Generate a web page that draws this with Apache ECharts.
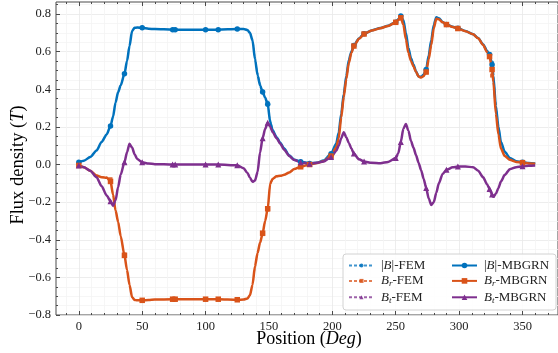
<!DOCTYPE html>
<html>
<head>
<meta charset="utf-8">
<script src="https://cdn.jsdelivr.net/npm/echarts@6/dist/echarts.min.js"></script>
<style>
  html, body { margin: 0; padding: 0; background: #fff; }
  #chart { width: 558px; height: 353px; }
</style>
</head>
<body>
<div id="chart"></div>
<script>
// Rotor position in mechanical degrees
const positions = [
  0, 4, 9, 14, 18, 22, 25, 27, 29, 31,
  33, 36, 38, 40, 42, 44, 46, 50, 55, 60,
  74, 76, 100, 110, 125, 130, 133, 135, 137, 139,
  141, 143, 145, 147, 149, 151, 153, 156, 159, 162,
  166, 170, 175, 182, 188, 193, 199, 203, 205, 207,
  209, 211, 213, 215, 217, 221, 225, 231, 238, 244,
  250, 252, 254, 256, 258, 260, 262, 264, 266, 268,
  270, 272, 274, 276, 278, 280, 282, 284, 287, 290,
  295, 299, 305, 311, 315, 319, 322, 324, 326, 327,
  329, 331, 333, 336, 340, 345, 350, 355, 360
];

// Positions that carry a marker
const markedPositions = [0, 25, 36, 50, 74, 76, 100, 110, 125, 145, 149, 175, 182, 199, 217, 225, 250, 254, 274, 290, 299, 324, 326, 350];

// |B| (T)
const bAbsFem = [
  0.012, 0.022, 0.042, 0.076, 0.12, 0.162, 0.203, 0.25, 0.325, 0.38,
  0.425, 0.482, 0.548, 0.625, 0.705, 0.728, 0.73, 0.728, 0.722, 0.72,
  0.717, 0.717, 0.717, 0.717, 0.72, 0.72, 0.716, 0.705, 0.67, 0.58,
  0.49, 0.435, 0.39, 0.36, 0.33, 0.24, 0.19, 0.15, 0.12, 0.088,
  0.05, 0.028, 0.016, 0.006, 0.01, 0.02, 0.055, 0.105, 0.165, 0.26,
  0.37, 0.465, 0.55, 0.598, 0.633, 0.67, 0.695, 0.713, 0.726, 0.738,
  0.757, 0.772, 0.788, 0.765, 0.705, 0.625, 0.57, 0.535, 0.5, 0.47,
  0.466, 0.476, 0.5, 0.57, 0.65, 0.735, 0.78, 0.776, 0.758, 0.745,
  0.732, 0.724, 0.71, 0.693, 0.672, 0.64, 0.61, 0.588, 0.543, 0.49,
  0.33, 0.21, 0.125, 0.07, 0.036, 0.018, 0.012, 0.008, 0.005
];
const bAbsMbgrn = [
  0.012, 0.02, 0.04, 0.075, 0.12, 0.16, 0.205, 0.255, 0.33, 0.385,
  0.42, 0.482, 0.55, 0.63, 0.71, 0.727, 0.728, 0.727, 0.722, 0.72,
  0.717, 0.717, 0.717, 0.717, 0.72, 0.72, 0.715, 0.7, 0.66, 0.56,
  0.475, 0.42, 0.385, 0.355, 0.32, 0.225, 0.18, 0.145, 0.115, 0.085,
  0.048, 0.026, 0.015, 0.006, 0.01, 0.021, 0.057, 0.11, 0.17, 0.27,
  0.375, 0.47, 0.555, 0.6, 0.633, 0.67, 0.695, 0.713, 0.726, 0.738,
  0.757, 0.772, 0.79, 0.768, 0.7, 0.62, 0.565, 0.53, 0.495, 0.468,
  0.466, 0.478, 0.505, 0.58, 0.66, 0.742, 0.783, 0.777, 0.758, 0.745,
  0.732, 0.724, 0.71, 0.693, 0.672, 0.638, 0.605, 0.585, 0.53, 0.47,
  0.31, 0.2, 0.12, 0.068, 0.035, 0.018, 0.012, 0.008, 0.005
];

// Radial component B_r (T)
const bRadFem = [
  -0.005, -0.015, -0.034, -0.056, -0.065, -0.066, -0.078, -0.15, -0.24, -0.3,
  -0.375, -0.478, -0.555, -0.635, -0.7, -0.72, -0.722, -0.722, -0.72, -0.718,
  -0.716, -0.716, -0.716, -0.716, -0.719, -0.718, -0.713, -0.7, -0.645, -0.56,
  -0.48, -0.42, -0.37, -0.31, -0.24, -0.11, -0.08, -0.066, -0.06, -0.055,
  -0.043, -0.025, -0.013, 0.0, 0.008, 0.017, 0.043, 0.088, 0.14, 0.245,
  0.355, 0.45, 0.538, 0.592, 0.63, 0.668, 0.694, 0.712, 0.725, 0.737,
  0.756, 0.77, 0.778, 0.74, 0.67, 0.6, 0.556, 0.526, 0.495, 0.47,
  0.463, 0.47, 0.49, 0.555, 0.63, 0.72, 0.772, 0.771, 0.756, 0.744,
  0.731, 0.723, 0.709, 0.692, 0.671, 0.636, 0.6, 0.578, 0.473, 0.44,
  0.28, 0.165, 0.088, 0.046, 0.025, 0.014, 0.01, 0.006, 0.004
];
const bRadMbgrn = [
  -0.005, -0.015, -0.033, -0.058, -0.068, -0.07, -0.09, -0.16, -0.245, -0.305,
  -0.38, -0.483, -0.56, -0.64, -0.705, -0.72, -0.722, -0.722, -0.72, -0.718,
  -0.716, -0.716, -0.716, -0.716, -0.719, -0.718, -0.712, -0.695, -0.64, -0.54,
  -0.47, -0.415, -0.365, -0.3, -0.235, -0.1, -0.075, -0.063, -0.06, -0.055,
  -0.042, -0.024, -0.012, 0.0, 0.008, 0.018, 0.045, 0.09, 0.14, 0.25,
  0.36, 0.455, 0.54, 0.593, 0.63, 0.668, 0.694, 0.712, 0.725, 0.737,
  0.756, 0.77, 0.78, 0.744, 0.666, 0.594, 0.551, 0.522, 0.492, 0.468,
  0.462, 0.47, 0.492, 0.56, 0.635, 0.725, 0.775, 0.772, 0.756, 0.744,
  0.731, 0.723, 0.709, 0.692, 0.671, 0.635, 0.598, 0.574, 0.505, 0.44,
  0.27, 0.16, 0.085, 0.045, 0.025, 0.014, 0.01, 0.006, 0.004
];

// Tangential component B_t (T)
const bTanFem = [
  -0.005, -0.015, -0.034, -0.07, -0.115, -0.165, -0.197, -0.218, -0.19, -0.115,
  -0.05, 0.015, 0.068, 0.108, 0.088, 0.053, 0.03, 0.012, 0.005, 0.002,
  0, 0, 0, 0, -0.004, -0.02, -0.045, -0.07, -0.09, -0.08,
  -0.035, 0.07, 0.14, 0.19, 0.22, 0.198, 0.17, 0.14, 0.11, 0.078,
  0.046, 0.025, 0.012, 0.004, 0.009, 0.016, 0.04, 0.07, 0.098, 0.138,
  0.168, 0.145, 0.115, 0.085, 0.058, 0.028, 0.016, 0.009, 0.007, 0.014,
  0.034, 0.06, 0.118, 0.186, 0.212, 0.18, 0.125, 0.09, 0.05, 0.01,
  -0.03, -0.075, -0.128, -0.18, -0.21, -0.198, -0.15, -0.1, -0.05, -0.028,
  -0.015, -0.011, -0.011, -0.014, -0.033, -0.068, -0.103, -0.128, -0.158, -0.17,
  -0.158, -0.128, -0.09, -0.055, -0.025, -0.014, -0.009, -0.006, -0.005
];
const bTanMbgrn = [
  -0.005, -0.015, -0.033, -0.068, -0.115, -0.165, -0.195, -0.22, -0.19, -0.12,
  -0.055, 0.012, 0.065, 0.11, 0.09, 0.055, 0.03, 0.012, 0.005, 0.002,
  0, 0, 0, 0, -0.004, -0.02, -0.045, -0.07, -0.092, -0.085,
  -0.04, 0.065, 0.14, 0.19, 0.222, 0.2, 0.172, 0.14, 0.11, 0.078,
  0.045, 0.024, 0.012, 0.004, 0.009, 0.016, 0.04, 0.072, 0.1, 0.14,
  0.172, 0.145, 0.115, 0.085, 0.058, 0.028, 0.016, 0.009, 0.007, 0.014,
  0.034, 0.06, 0.12, 0.19, 0.216, 0.18, 0.125, 0.09, 0.05, 0.01,
  -0.03, -0.075, -0.125, -0.18, -0.215, -0.2, -0.15, -0.1, -0.05, -0.028,
  -0.015, -0.011, -0.011, -0.014, -0.033, -0.068, -0.105, -0.13, -0.16, -0.172,
  -0.155, -0.125, -0.09, -0.055, -0.025, -0.014, -0.009, -0.006, -0.005
];

// Axis ticks
const xMajorTicks = [0, 50, 100, 150, 200, 250, 300, 350];
const xMinorTicks = [-10, 10, 20, 30, 40, 60, 70, 80, 90, 110, 120, 130, 140, 160, 170, 180, 190,
  210, 220, 230, 240, 260, 270, 280, 290, 310, 320, 330, 340, 360, 370];
const yMajorTicks = [-0.8, -0.6, -0.4, -0.2, 0.0, 0.2, 0.4, 0.6, 0.8];
const yMinorTicks = [-0.75, -0.7, -0.65, -0.55, -0.5, -0.45, -0.35, -0.3, -0.25, -0.15, -0.1, -0.05,
  0.05, 0.1, 0.15, 0.25, 0.3, 0.35, 0.45, 0.5, 0.55, 0.65, 0.7, 0.75, 0.85];

const FONT = 'Liberation Serif';
const BLUE = '#0072BD', ORANGE = '#D95319', PURPLE = '#7E2F8E';
const AXIS_COLOR = '#4a4a4a';

const markSet = new Set(markedPositions);
const pairs = ys => positions.map((x, i) => [x, ys[i]]);

function femSeries(name, ys, color, symbol, size) {
  return {
    name, type: 'line', data: pairs(ys), smooth: 0.25, smoothMonotone: 'x',
    symbol, showAllSymbol: true,
    symbolSize: v => (markSet.has(v[0]) ? size : 0),
    lineStyle: { color, width: 1, type: [3, 2], opacity: 0.75 },
    itemStyle: { color, opacity: 0.85 },
    emphasis: { disabled: true }, z: 2
  };
}
function mbgrnSeries(name, ys, color, symbol, size) {
  return {
    name, type: 'line', data: pairs(ys), smooth: 0.25, smoothMonotone: 'x',
    symbol, showAllSymbol: true,
    symbolSize: v => (markSet.has(v[0]) ? size : 0),
    lineStyle: { color, width: 2.5 },
    itemStyle: { color },
    emphasis: { disabled: true }, z: 3
  };
}

const richBase = {
  n: { fontFamily: FONT, fontSize: 13, lineHeight: 15, color: '#222' },
  i: { fontFamily: FONT, fontSize: 13, lineHeight: 15, fontStyle: 'italic', color: '#222' },
  s: { fontFamily: FONT, fontSize: 9, lineHeight: 9, fontStyle: 'italic', color: '#222', verticalAlign: 'bottom' }
};
const legendLabels = {
  '|B|-FEM': '{n||}{i|B}{n||-FEM}',
  'Br-FEM': '{i|B}{s|r}{n|-FEM}',
  'Bt-FEM': '{i|B}{s|t}{n|-FEM}',
  '|B|-MBGRN': '{n||}{i|B}{n||-MBGRN}',
  'Br-MBGRN': '{i|B}{s|r}{n|-MBGRN}',
  'Bt-MBGRN': '{i|B}{s|t}{n|-MBGRN}'
};

function legendAt(left, names, iconH) {
  return {
    data: names, orient: 'vertical', left, top: 259, padding: 0,
    itemWidth: 25, itemHeight: iconH, itemGap: 2.4, z: 8,
    selectedMode: false,
    formatter: name => legendLabels[name],
    textStyle: { rich: richBase, padding: [0, 0, 0, 2] }
  };
}

const yLabel = v => {
  const k = Math.round(v / 0.2);
  if (Math.abs(v - k * 0.2) > 1e-6) return '';
  return (k * 0.2).toFixed(1).replace('-', '\u2212');
};

const hiddenLine = { show: false, onZero: false };

const chart = echarts.init(document.getElementById('chart'), null, { renderer: 'canvas' });
chart.setOption({
  animation: false,
  backgroundColor: '#fff',
  grid: { left: 56, top: 2, width: 507, height: 313, show: true, borderColor: AXIS_COLOR, borderWidth: 1, backgroundColor: 'transparent' },
  xAxis: [
    { type: 'value', min: -18, max: 378, position: 'bottom', axisLine: hiddenLine,
      axisTick: { inside: true, length: 4, customValues: xMajorTicks, lineStyle: { color: AXIS_COLOR } },
      axisLabel: { customValues: xMajorTicks, fontFamily: FONT, fontSize: 12.5, color: '#222', margin: 5 },
      splitLine: { show: true, lineStyle: { color: '#e9e9e9', width: 0.8 } } },
    { type: 'value', min: -18, max: 378, position: 'bottom', axisLine: hiddenLine,
      axisTick: { inside: true, length: 2, customValues: xMinorTicks, lineStyle: { color: AXIS_COLOR } },
      axisLabel: { show: false },
      splitLine: { show: true, lineStyle: { color: '#f4f4f4', width: 0.8 } } },
    { type: 'value', min: -18, max: 378, position: 'top', axisLine: hiddenLine,
      axisTick: { inside: true, length: 4, customValues: xMajorTicks, lineStyle: { color: AXIS_COLOR } },
      axisLabel: { show: false }, splitLine: { show: false } },
    { type: 'value', min: -18, max: 378, position: 'top', axisLine: hiddenLine,
      axisTick: { inside: true, length: 2, customValues: xMinorTicks, lineStyle: { color: AXIS_COLOR } },
      axisLabel: { show: false }, splitLine: { show: false } }
  ],
  yAxis: [
    { type: 'value', min: -0.8, max: 0.864, position: 'left', axisLine: hiddenLine,
      axisTick: { inside: true, length: 4, customValues: yMajorTicks, lineStyle: { color: AXIS_COLOR } },
      axisLabel: { customValues: yMajorTicks, formatter: yLabel, fontFamily: FONT, fontSize: 12.5, color: '#222', margin: 5 },
      splitLine: { show: true, lineStyle: { color: '#e9e9e9', width: 0.8 } } },
    { type: 'value', min: -0.8, max: 0.864, position: 'left', axisLine: hiddenLine,
      axisTick: { inside: true, length: 2, customValues: yMinorTicks, lineStyle: { color: AXIS_COLOR } },
      axisLabel: { show: false },
      splitLine: { show: true, lineStyle: { color: '#f4f4f4', width: 0.8 } } }
  ],
  legend: [
    legendAt(348, ['|B|-FEM', 'Br-FEM', 'Bt-FEM'], 5),
    legendAt(451, ['|B|-MBGRN', 'Br-MBGRN', 'Bt-MBGRN'], 7)
  ],
  graphic: [
    { type: 'rect', z: 7, shape: { x: 343, y: 254, width: 213, height: 56, r: 3 },
      style: { fill: 'rgba(255,255,255,0.85)', stroke: '#d2d2d2', lineWidth: 1 } },
    { type: 'text', z: 9, x: 309, y: 339,
      style: { text: '{n|Position (}{i|Deg}{n|)}', align: 'center', verticalAlign: 'middle',
        rich: { n: { fontFamily: FONT, fontSize: 18, color: '#111' }, i: { fontFamily: FONT, fontSize: 18, fontStyle: 'italic', color: '#111' } } } },
    { type: 'text', z: 9, x: 18, y: 165, rotation: Math.PI / 2,
      style: { text: '{n|Flux density (}{i|T}{n|)}', align: 'center', verticalAlign: 'middle',
        rich: { n: { fontFamily: FONT, fontSize: 18.5, color: '#111' }, i: { fontFamily: FONT, fontSize: 18.5, fontStyle: 'italic', color: '#111' } } } }
  ],
  series: [
    femSeries('|B|-FEM', bAbsFem, BLUE, 'circle', 4),
    femSeries('Br-FEM', bRadFem, ORANGE, 'rect', 4),
    femSeries('Bt-FEM', bTanFem, PURPLE, 'triangle', 4.5),
    mbgrnSeries('|B|-MBGRN', bAbsMbgrn, BLUE, 'circle', 5.5),
    mbgrnSeries('Br-MBGRN', bRadMbgrn, ORANGE, 'rect', 5.5),
    mbgrnSeries('Bt-MBGRN', bTanMbgrn, PURPLE, 'triangle', 6)
  ]
});
</script>
</body>
</html>
